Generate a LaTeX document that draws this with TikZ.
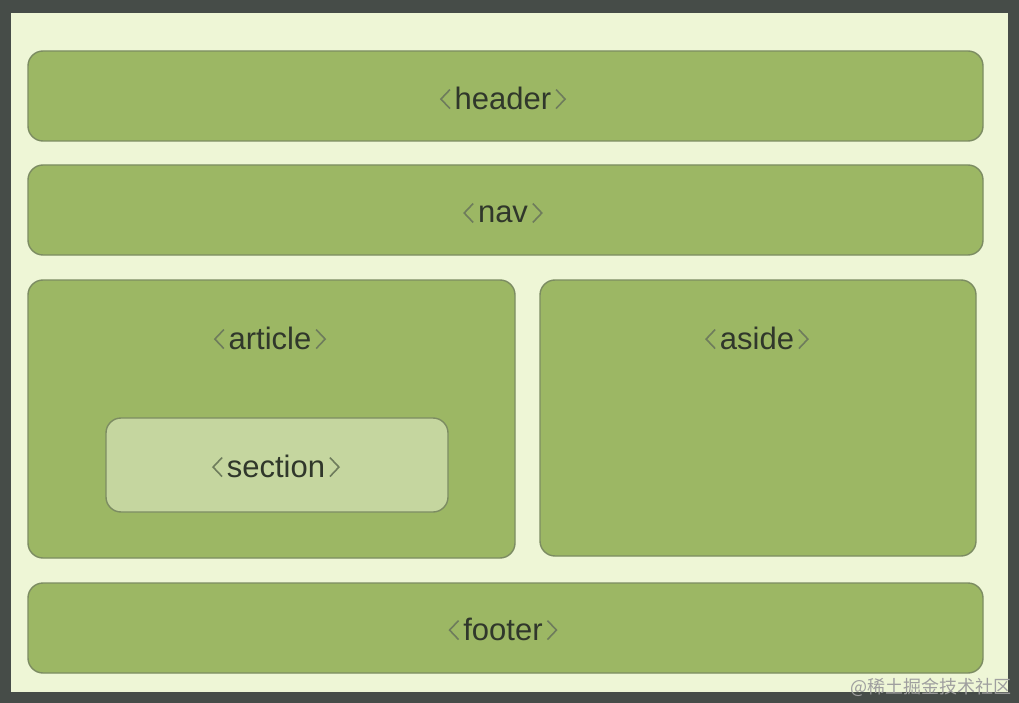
\documentclass[tikz,border=0pt]{standalone}
\usepackage{fontspec}
\setmainfont{Liberation Sans}
\newfontfamily\cjk{Noto Sans CJK SC}
\definecolor{frame}{HTML}{464C48}
\definecolor{bg}{HTML}{EEF6D6}
\definecolor{boxfill}{HTML}{9CB764}
\definecolor{boxline}{HTML}{7C8C62}
\definecolor{secfill}{HTML}{C5D69F}
\definecolor{txt}{HTML}{30372B}
\definecolor{brk}{HTML}{6E7C5C}
\newcommand{\lbrk}{\tikz[baseline=0pt,x=1pt,y=1pt]\draw[brk,line width=1.6pt,line join=miter] (9.5,19.5)--(0.5,10)--(9.5,0.5);}
\newcommand{\rbrk}{\tikz[baseline=0pt,x=1pt,y=1pt]\draw[brk,line width=1.6pt,line join=miter] (0.5,19.5)--(9.5,10)--(0.5,0.5);}
\newcommand{\tagtxt}[1]{\lbrk\kern4pt{\color{txt}#1}\kern4pt\rbrk}
\begin{document}
\begin{tikzpicture}[x=1pt,y=-1pt,
  blk/.style={draw=boxline, line width=1.4pt, fill=boxfill, rounded corners=15pt},
  lbl/.style={font=\fontsize{31}{33}\selectfont, inner sep=0pt}]
\useasboundingbox (0,0) rectangle (1019,703);
\fill[frame] (0,0) rectangle (1019,703);
\fill[bg] (11,13) rectangle (1008,692);
\draw[blk] (28,51) rectangle (983,141);
\node[lbl] (header) at (503,98) {\tagtxt{header}};
\draw[blk] (28,165) rectangle (983,255);
\node[lbl] (nav) at (503,213) {\tagtxt{nav}};
\draw[blk] (28,280) rectangle (515,558);
\node[lbl] (article) at (270,338) {\tagtxt{article}};
\draw[blk] (540,280) rectangle (976,556);
\node[lbl] (aside) at (757,338) {\tagtxt{aside}};
\draw[blk, fill=secfill] (106,418) rectangle (448,512);
\node[lbl] (section) at (276,466) {\tagtxt{section}};
\draw[blk] (28,583) rectangle (983,673);
\node[lbl] (footer) at (503,629) {\tagtxt{footer}};
\node[inner sep=0pt, anchor=east, text=gray!75, font=\cjk\fontsize{18}{19}\selectfont] (wm) at (1012,687) {@稀土掘金技术社区};
\end{tikzpicture}
\end{document}
